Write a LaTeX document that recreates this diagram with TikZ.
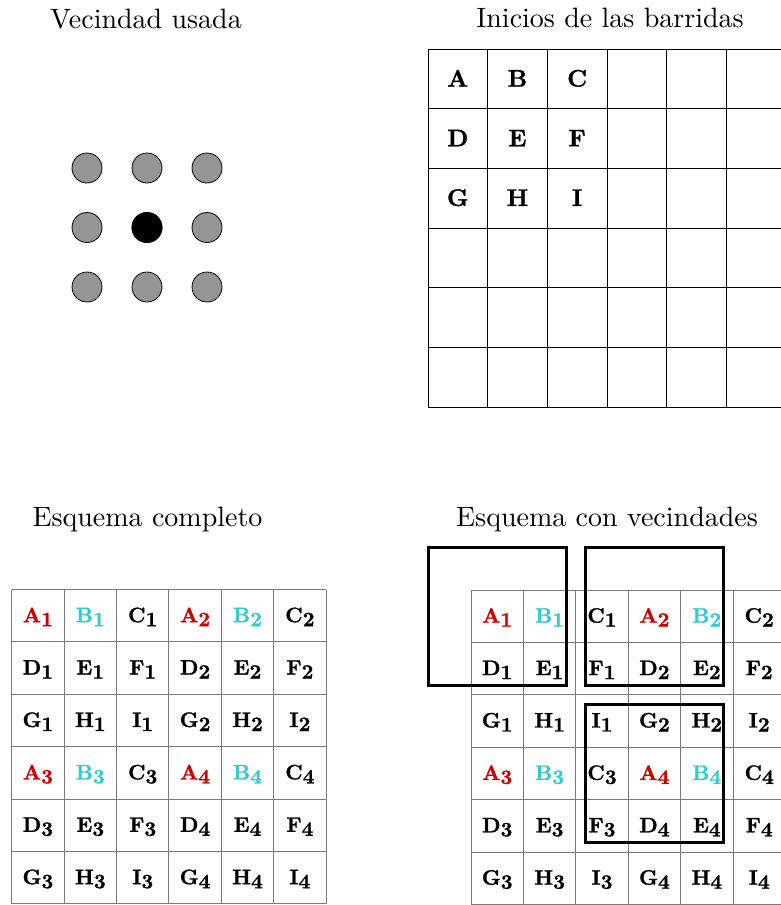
\documentclass[tikz,border=0pt]{standalone}
\usepackage{fontspec}
\newfontfamily\tfont{lmroman10-regular}[Extension=.otf]
\newfontfamily\bfont{lmroman10-bold}[Extension=.otf, FakeBold=1.2]
\usepackage{xcolor}
\definecolor{cred}{HTML}{CC0000}
\definecolor{ccyan}{HTML}{33CCCC}
\definecolor{cgray}{HTML}{959595}
\definecolor{lgray}{HTML}{7A7A7A}
\newcommand{\sbs}[1]{\raisebox{-4pt}{\fontsize{20.5}{20.5}\selectfont #1}}
\begin{document}
\begin{tikzpicture}[x=1pt,y=-1pt,
  title/.style={font=\tfont\fontsize{28}{32}\selectfont, anchor=base, inner sep=0pt},
  cell/.style={font=\bfont\fontsize{24}{28}\selectfont, anchor=base, inner sep=0pt},
  subcell/.style={font=\bfont\fontsize{21}{24}\selectfont, anchor=base, inner sep=0pt},
  dot/.style={circle, draw=black, line width=0.8pt, fill=cgray, minimum size=30pt, inner sep=0pt},
  center dot/.style={dot, fill=black},
  black grid/.style={draw=black, line width=0.8pt},
  gray grid/.style={draw=lgray, line width=1pt},
  win/.style={draw=black, line width=3pt}]
\useasboundingbox (0,0) rectangle (780,905);
% titles
\node[title] (t1) at (146,28) {Vecindad usada};
\node[title] (t2) at (610,27.5) {Inicios de las barridas};
\node[title] (t3) at (147.5,526.5) {Esquema completo};
\node[title] (t4) at (607,526.5) {Esquema con vecindades};
% neighbourhood
\foreach \r in {0,1,2}{\foreach \c in {0,1,2}{
  \node[dot] (n-\r-\c) at ({87+\c*60},{168+\r*59.5}) {};
}}
\node[center dot] (n-1-1) at (147,227.5) {};
% start grid
\foreach \i in {0,...,6}{
  \draw[black grid] ({428+\i*59.667},49) -- ({428+\i*59.667},407);
  \draw[black grid] (428,{49+\i*59.667}) -- (786,{49+\i*59.667});
}
\foreach \L [count=\k from 0] in {A,B,C,D,E,F,G,H,I}{
  \pgfmathtruncatemacro\r{int(\k/3)}
  \pgfmathtruncatemacro\c{mod(\k,3)}
  \node[cell] (s-\L) at ({457.8+\c*59.667},{78.8+7.8+\r*59.667}) {\L};
}
% full schemes
\foreach \gx/\gy/\nm in {11.7/589.5/a, 471/590/b}{
  \foreach \i in {0,...,6}{
    \draw[gray grid] ({\gx+\i*52.4},\gy) -- ({\gx+\i*52.4},{\gy+6*52.4});
    \draw[gray grid] (\gx,{\gy+\i*52.4}) -- ({\gx+6*52.4},{\gy+\i*52.4});
  }
  \foreach \r in {0,...,5}{\foreach \c in {0,...,5}{
    \pgfmathtruncatemacro\li{mod(\r,3)*3+mod(\c,3)}
    \pgfmathtruncatemacro\n{1+int(\c/3)+2*int(\r/3)}
    \pgfmathsetmacro\L{{"A","B","C","D","E","F","G","H","I"}[\li]}
    \pgfmathsetmacro\col{{"cred","ccyan","black","black","black","black","black","black","black"}[\li]}
    \node[subcell, text=\col] (\nm-\r-\c) at ({\gx+26.2+\c*52.4},{\gy+26.2+6.5+\r*52.4}) {\L\sbs{\n}};
  }}
}
% neighbourhood windows
\draw[win] (428,547) rectangle (566,685);
\draw[win] (585,547) rectangle (723,685);
\draw[win] (585,704) rectangle (723,842);
\end{tikzpicture}
\end{document}
